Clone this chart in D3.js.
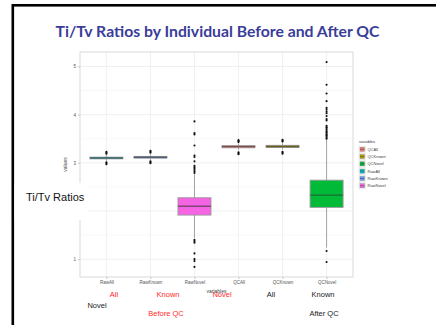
<!DOCTYPE html>
<html>
<head>
<meta charset="utf-8">
<script src="https://cdn.jsdelivr.net/npm/d3@7"></script>
<style>
  html, body { margin: 0; padding: 0; background: #fff; }
  svg { display: block; }
</style>
</head>
<body>
<svg id="chart" width="436" height="325"></svg>
<script>
// Categories in axis order
const categories = ["RawAll", "RawKnown", "RawNovel", "QCAll", "QCKnown", "QCNovel"];
// Legend order (alphabetical, as the factor levels)
const legendOrder = ["QCAll", "QCKnown", "QCNovel", "RawAll", "RawKnown", "RawNovel"];
const colors = {
  QCAll: "#F8766D", QCKnown: "#B79F00", QCNovel: "#00BA38",
  RawAll: "#00BFC4", RawKnown: "#619CFF", RawNovel: "#F564E3"
};

// Box statistics per category
const q1      = [3.082, 3.097, 1.915, 3.312, 3.317, 2.075];
const medians = [3.100, 3.115, 2.100, 3.335, 3.340, 2.330];
const q3      = [3.118, 3.133, 2.275, 3.358, 3.363, 2.640];
const whiskLo = [3.040, 3.050, 1.440, 3.270, 3.275, 1.240];
const whiskHi = [3.160, 3.175, 2.760, 3.400, 3.405, 3.480];
const outliers = [
  [3.23, 3.21, 3.19, 3.01, 2.99, 2.97],
  [3.25, 3.23, 3.21, 3.03, 3.01, 2.99],
  [3.86, 3.62, 3.59, 3.36, 3.15, 3.12, 3.03, 2.94, 2.91, 2.88, 2.85, 2.82, 2.79,
   1.40, 1.37, 1.34, 1.12, 1.00, 0.96, 0.84],
  [3.47, 3.45, 3.43, 3.22, 3.20, 3.18],
  [3.48, 3.46, 3.44, 3.23, 3.21, 3.19],
  [5.09, 4.62, 4.44, 4.28, 4.14, 4.10, 4.06, 4.03, 3.97, 3.91, 3.88, 3.77, 3.74,
   3.72, 3.69, 3.66, 3.64, 3.62, 3.59, 3.57, 3.55, 3.52, 3.50, 1.17, 0.94]
];
const yTicks = [1, 2, 3, 4, 5];

// Slide annotations placed beneath the plot
const groupLabels = [
  { text: "All", x: 114, y: 297, color: "#ff2a2a" },
  { text: "Known", x: 168, y: 297, color: "#ff2a2a" },
  { text: "Novel", x: 222, y: 297, color: "#ff2a2a" },
  { text: "All", x: 271, y: 297, color: "#1a1a1a" },
  { text: "Known", x: 323, y: 297, color: "#1a1a1a" },
  { text: "Novel", x: 97, y: 308, color: "#1a1a1a" },
  { text: "Before QC", x: 166, y: 316, color: "#ff2a2a" },
  { text: "After QC", x: 324, y: 316, color: "#1a1a1a" }
];

const svg = d3.select("#chart");

// Slide frame
svg.append("rect").attr("x", 12.8).attr("y", 5.3).attr("width", 440).attr("height", 340)
  .attr("fill", "#fff").attr("stroke", "#000").attr("stroke-width", 2.6);

// Slide title
svg.append("text").attr("x", 217.5).attr("y", 37)
  .attr("text-anchor", "middle")
  .attr("font-family", "Lato, 'Open Sans', sans-serif")
  .attr("font-weight", "bold").attr("font-size", 15)
  .attr("textLength", 324).attr("lengthAdjust", "spacingAndGlyphs")
  .attr("fill", "#3a3d99")
  .text("Ti/Tv Ratios by Individual Before and After QC");

// Plot panel
const panel = { left: 80, right: 353, top: 52, bottom: 277 };
const x = d3.scalePoint().domain(categories).range([panel.left, panel.right]).padding(0.6);
const y = d3.scaleLinear().domain([0.63, 5.30]).range([panel.bottom, panel.top]);
const boxW = x.step() * 0.75;

const g = svg.append("g");

// minor grid
const minor = d3.range(0.5, 5.5, 1).filter(v => v > 0.63 && v < 5.3);
g.selectAll(".minor").data(minor).join("line")
  .attr("x1", panel.left).attr("x2", panel.right)
  .attr("y1", d => y(d)).attr("y2", d => y(d))
  .attr("stroke", "#f4f4f4").attr("stroke-width", 0.6);
// major grid
g.selectAll(".majorY").data(yTicks).join("line")
  .attr("x1", panel.left).attr("x2", panel.right)
  .attr("y1", d => y(d)).attr("y2", d => y(d))
  .attr("stroke", "#ececec").attr("stroke-width", 0.8);
g.selectAll(".majorX").data(categories).join("line")
  .attr("x1", d => x(d)).attr("x2", d => x(d))
  .attr("y1", panel.top).attr("y2", panel.bottom)
  .attr("stroke", "#ececec").attr("stroke-width", 0.8);

// Axes
const yAxis = d3.axisLeft(y).tickValues(yTicks).tickSize(2).tickPadding(2).tickFormat(d3.format("d"));
const yG = g.append("g").attr("transform", `translate(${panel.left},0)`).call(yAxis);
const xAxis = d3.axisBottom(x).tickSize(2).tickPadding(2);
const xG = g.append("g").attr("transform", `translate(0,${panel.bottom})`).call(xAxis);
[yG, xG].forEach(ax => {
  ax.select(".domain").remove();
  ax.selectAll("line").attr("stroke", "#999").attr("stroke-width", 0.6);
  ax.selectAll("text").attr("fill", "#555").attr("font-size", 4.5)
    .attr("font-family", "'Liberation Sans', Arial, sans-serif");
});

// Panel border
g.append("rect").attr("x", panel.left).attr("y", panel.top)
  .attr("width", panel.right - panel.left).attr("height", panel.bottom - panel.top)
  .attr("fill", "none").attr("stroke", "#d0d0d0").attr("stroke-width", 0.8);

// Axis titles
g.append("text").attr("transform", `translate(67,${(panel.top + panel.bottom) / 2}) rotate(-90)`)
  .attr("text-anchor", "middle").attr("font-size", 5).attr("fill", "#444")
  .attr("font-family", "'Liberation Sans', Arial, sans-serif").text("values");
g.append("text").attr("x", (panel.left + panel.right) / 2).attr("y", 293)
  .attr("text-anchor", "middle").attr("font-size", 5).attr("fill", "#444")
  .attr("font-family", "'Liberation Sans', Arial, sans-serif").text("variables");

// Box plots
const boxes = g.selectAll(".box").data(categories).join("g")
  .attr("transform", d => `translate(${x(d)},0)`);
boxes.append("line")
  .attr("y1", (d, i) => y(whiskLo[i])).attr("y2", (d, i) => y(whiskHi[i]))
  .attr("stroke", "#9a9a9a").attr("stroke-width", 0.9);
boxes.append("rect")
  .attr("x", -boxW / 2).attr("width", boxW)
  .attr("y", (d, i) => y(q3[i]))
  .attr("height", (d, i) => Math.max(0.5, y(q1[i]) - y(q3[i])))
  .attr("fill", d => colors[d])
  .attr("stroke", "#9a9a9a").attr("stroke-width", 0.9);
boxes.append("line")
  .attr("x1", -boxW / 2).attr("x2", boxW / 2)
  .attr("y1", (d, i) => y(medians[i])).attr("y2", (d, i) => y(medians[i]))
  .attr("stroke", "#333").attr("stroke-opacity", 0.6).attr("stroke-width", 1.4);
boxes.each(function (d, i) {
  d3.select(this).selectAll("circle").data(outliers[i]).join("circle")
    .attr("cx", 0).attr("cy", v => y(v)).attr("r", 1.05).attr("fill", "#111");
});

// Legend
const leg = g.append("g").attr("transform", "translate(359,139)");
leg.append("text").attr("x", 0).attr("y", 4).attr("font-size", 4).attr("fill", "#333")
  .attr("font-family", "'Liberation Sans', Arial, sans-serif").text("variables");
const keys = leg.selectAll(".key").data(legendOrder).join("g")
  .attr("transform", (d, i) => `translate(0,${7 + i * 7.3})`);
keys.append("rect").attr("width", 6.5).attr("height", 6.5)
  .attr("fill", "#f2f2f2").attr("stroke", "#ddd").attr("stroke-width", 0.4);
keys.append("rect").attr("x", 1).attr("y", 1.2).attr("width", 4.5).attr("height", 4.1)
  .attr("fill", d => colors[d]).attr("stroke", "#888").attr("stroke-width", 0.4);
keys.append("line").attr("x1", 1).attr("x2", 5.5).attr("y1", 3.25).attr("y2", 3.25)
  .attr("stroke", "#444").attr("stroke-width", 0.5);
keys.append("text").attr("x", 8.5).attr("y", 4.8).attr("font-size", 4).attr("fill", "#444")
  .attr("font-family", "'Liberation Sans', Arial, sans-serif").text(d => d);

// Text box over the left side of the plot
svg.append("rect").attr("x", 14.5).attr("y", 183).attr("width", 73).attr("height", 37).attr("fill", "#fff");
svg.append("text").attr("x", 26).attr("y", 200.5)
  .attr("font-family", "'Liberation Sans', Arial, sans-serif").attr("font-size", 11)
  .attr("fill", "#111").text("Ti/Tv Ratios");

// Group annotations
svg.selectAll(".grp").data(groupLabels).join("text")
  .attr("x", d => d.x).attr("y", d => d.y)
  .attr("text-anchor", "middle")
  .attr("font-family", "'Liberation Sans', Arial, sans-serif").attr("font-size", 7.5)
  .attr("fill", d => d.color).text(d => d.text);
</script>
</body>
</html>
